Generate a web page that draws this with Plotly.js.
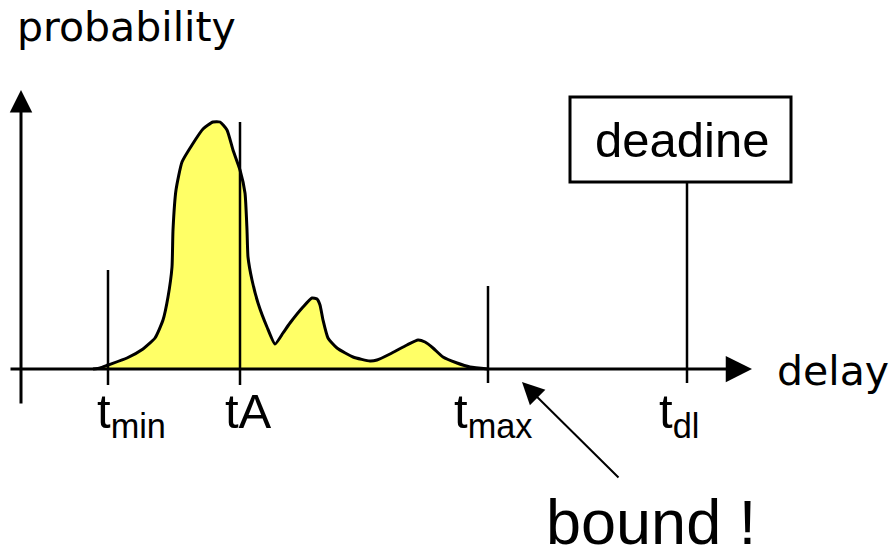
<!DOCTYPE html>
<html>
<head>
<meta charset="utf-8">
<script src="https://cdn.plot.ly/plotly-3.0.1.min.js"></script>
<style>html,body{margin:0;padding:0;background:#fff;}#chart{width:893px;height:558px;}</style>
</head>
<body>
<div id="chart"></div>
<script>
// Delay-probability density (delay units along x, probability height along y)
const delay = [72, 79, 87, 106, 122, 134, 142, 147, 151, 152, 155, 161, 171, 182, 192, 199, 206, 212, 219, 224, 226, 227, 231, 237, 246, 254, 262, 269, 282, 291, 296, 299, 302, 307, 316, 332, 349, 356, 369, 386, 397, 404, 412, 422, 436, 449, 467];
const probability = [0, 1, 4, 11, 20, 31, 49, 72, 102, 139, 179, 207, 224, 240, 247, 247, 239, 219, 199, 176, 139, 112, 89, 66, 42, 25, 36, 46, 62, 71, 70, 64, 49, 31, 21, 12, 8, 9, 15, 24, 29, 27, 21, 12, 6, 2, 0];

// Marked delays
const markerNames = ['t<sub>min</sub>', 'tA', 't<sub>max</sub>', 't<sub>dl</sub>'];
const markerTimes = [87, 219, 467, 666];
const markerTop = [99, 247, 83, 187];
const markerBottom = [-16, -16, -14, -14];

const axisLabelX = 'delay';
const axisLabelY = 'probability';
const deadlineLabel = 'deadine';
const boundLabel = 'bound !';
const boundTip = [501, -13];
const boundTail = [599, -110];

const traces = [{
  x: delay, y: probability, type: 'scatter', mode: 'lines',
  line: {color: '#000', width: 3, shape: 'spline', smoothing: 0.5},
  fill: 'tozeroy', fillcolor: '#ffff66', hoverinfo: 'skip', showlegend: false
}];
markerTimes.forEach((t, i) => {
  traces.push({
    x: [t, t], y: [markerBottom[i], markerTop[i]], type: 'scatter', mode: 'lines',
    line: {color: '#000', width: 2.5}, hoverinfo: 'skip', showlegend: false
  });
});

const arial = 'Liberation Sans, Arial, sans-serif';
const wide = 'DejaVu Sans, sans-serif';
const labelShift = [-13, -17, -36, -30];

const annotations = [
  // x axis arrow
  {x: 731, y: 0, ax: -12, ay: 0, axref: 'x', ayref: 'y', xref: 'x', yref: 'y', text: '',
   showarrow: true, arrowhead: 2, arrowsize: 1.75, arrowwidth: 3, arrowcolor: '#000'},
  // y axis arrow
  {x: 0, y: 279, ax: 0, ay: -36, axref: 'x', ayref: 'y', xref: 'x', yref: 'y', text: '',
   showarrow: true, arrowhead: 2, arrowsize: 1.5, arrowwidth: 3, arrowcolor: '#000'},
  // bound arrow
  {x: boundTip[0], y: boundTip[1], ax: boundTail[0], ay: boundTail[1], axref: 'x', ayref: 'y', xref: 'x', yref: 'y', text: '',
   showarrow: true, arrowhead: 2, arrowsize: 2.2, arrowwidth: 2, arrowcolor: '#000'},
  {x: -6, y: 368, xref: 'x', yref: 'y', xanchor: 'left', yanchor: 'top', text: axisLabelY, showarrow: false,
   font: {family: wide, size: 41, color: '#000'}},
  {x: 754, y: 24, xref: 'x', yref: 'y', xanchor: 'left', yanchor: 'top', text: axisLabelX, showarrow: false,
   font: {family: wide, size: 41, color: '#000'}},
  {x: 660.5, y: 258, xref: 'x', yref: 'y', xanchor: 'center', yanchor: 'top', text: deadlineLabel, showarrow: false,
   font: {family: arial, size: 49, color: '#000'}},
  {x: 524, y: -188.5, xref: 'x', yref: 'y', xanchor: 'left', yanchor: 'bottom', borderpad: 0, text: boundLabel, showarrow: false,
   font: {family: arial, size: 63, color: '#000'}}
];
markerTimes.forEach((t, i) => {
  annotations.push({x: t, y: -13, xref: 'x', yref: 'y', xanchor: 'left', yanchor: 'top', xshift: labelShift[i],
    text: markerNames[i], showarrow: false, font: {family: arial, size: 49, color: '#000'}});
});

const layout = {
  width: 893, height: 558,
  margin: {l: 0, r: 0, t: 0, b: 0, pad: 0},
  paper_bgcolor: '#fff', plot_bgcolor: '#fff',
  xaxis: {range: [-21, 872], visible: false, fixedrange: true},
  yaxis: {range: [-189, 369], visible: false, fixedrange: true},
  showlegend: false,
  shapes: [{type: 'rect', xref: 'x', yref: 'y', x0: 549, x1: 770, y0: 187, y1: 272,
            line: {color: '#000', width: 3}, fillcolor: '#fff', layer: 'above'}],
  annotations: annotations
};

Plotly.newPlot('chart', traces, layout, {staticPlot: true, displayModeBar: false});
</script>
</body>
</html>
